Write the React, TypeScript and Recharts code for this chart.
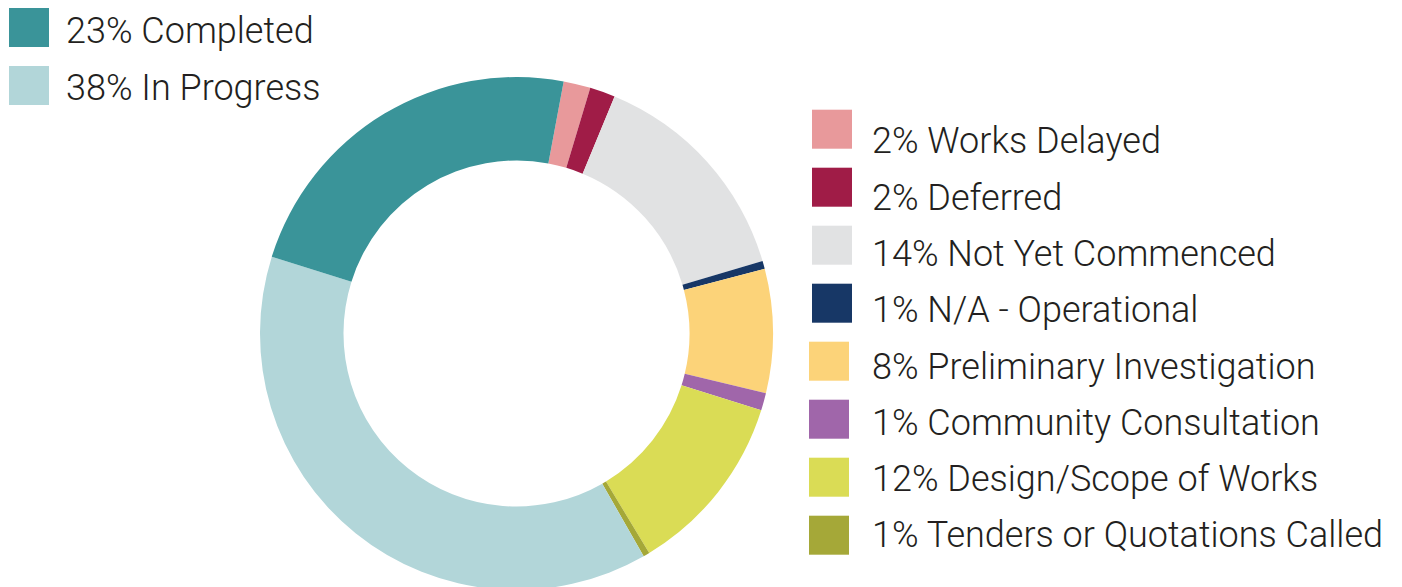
import React from 'react';
import { PieChart, Pie, Cell, Legend } from 'recharts';

// Categories in clockwise drawing order, starting just right of 12 o'clock
const categories = [
  'Works Delayed',
  'Deferred',
  'Not Yet Commenced',
  'N/A - Operational',
  'Preliminary Investigation',
  'Community Consultation',
  'Design/Scope of Works',
  'Tenders or Quotations Called',
  'In Progress',
  'Completed',
];
// Share of projects (percent, as measured from the ring)
const values = [1.7, 1.6, 14.2, 0.5, 7.8, 1.1, 11.5, 0.4, 38.1, 23.1];
// Rounded labels shown in the legend
const percentLabels = ['2%', '2%', '14%', '1%', '8%', '1%', '12%', '1%', '38%', '23%'];
const colors = [
  '#e8999b',
  '#a01c47',
  '#e1e2e3',
  '#173766',
  '#fcd379',
  '#a066aa',
  '#dadc55',
  '#a5a838',
  '#b2d6d9',
  '#3a9499',
];
const topLegendOrder = ['Completed', 'In Progress'];

const data = categories.map((name, i) => ({
  name,
  value: values[i],
  label: `${percentLabels[i]} ${name}`,
}));

const FONT = 'Roboto, "Liberation Sans", sans-serif';
const TEXT_COLOR = '#231f20';

function LegendContent(props: any) {
  const payload: any[] = props.payload || [];
  const byName: Record<string, any> = {};
  payload.forEach((p) => {
    byName[p.payload?.name ?? p.value] = p;
  });
  const topItems = topLegendOrder.map((n) => byName[n]).filter(Boolean);
  const rightItems = categories
    .filter((n) => !topLegendOrder.includes(n))
    .map((n) => byName[n])
    .filter(Boolean);
  return (
    <svg width={1402} height={587} style={{ position: 'absolute', left: 0, top: 0 }}>
      {topItems.map((p, i) => (
        <g key={`t${i}`}>
          <rect x={9} y={8 + i * 58} width={40} height={39} fill={p.color} />
          <text
            x={66}
            y={43.3 + i * 57}
            fontFamily={FONT}
            fontWeight={300}
            fontSize={36}
            fill={TEXT_COLOR}
          >
            {p.value}
          </text>
        </g>
      ))}
      {rightItems.map((p, i) => (
        <g key={`r${i}`}>
          <rect x={i < 4 ? 812 : 809} y={109.7 + i * 58} width={40} height={39} fill={p.color} />
          <text
            x={872}
            y={153.3 + i * 56.3}
            fontFamily={FONT}
            fontWeight={300}
            fontSize={36}
            fill={TEXT_COLOR}
          >
            {p.value}
          </text>
        </g>
      ))}
    </svg>
  );
}

export default function App() {
  return (
    <div style={{ position: 'absolute', left: 0, top: 0, width: 1402, height: 587, background: '#ffffff' }}>
      <PieChart width={1402} height={587} margin={{ top: 0, right: 0, bottom: 0, left: 0 }}>
        <Pie
          data={data}
          dataKey="value"
          nameKey="label"
          cx={516.5}
          cy={333.5}
          innerRadius={173}
          outerRadius={256.5}
          startAngle={79.4}
          endAngle={-280.6}
          stroke="none"
          isAnimationActive={false}
        >
          {data.map((d, i) => (
            <Cell key={d.name} fill={colors[i]} />
          ))}
        </Pie>
        <Legend
          content={<LegendContent />}
          wrapperStyle={{ position: 'absolute', left: 0, top: 0, width: 1402, height: 587 }}
        />
      </PieChart>
    </div>
  );
}
